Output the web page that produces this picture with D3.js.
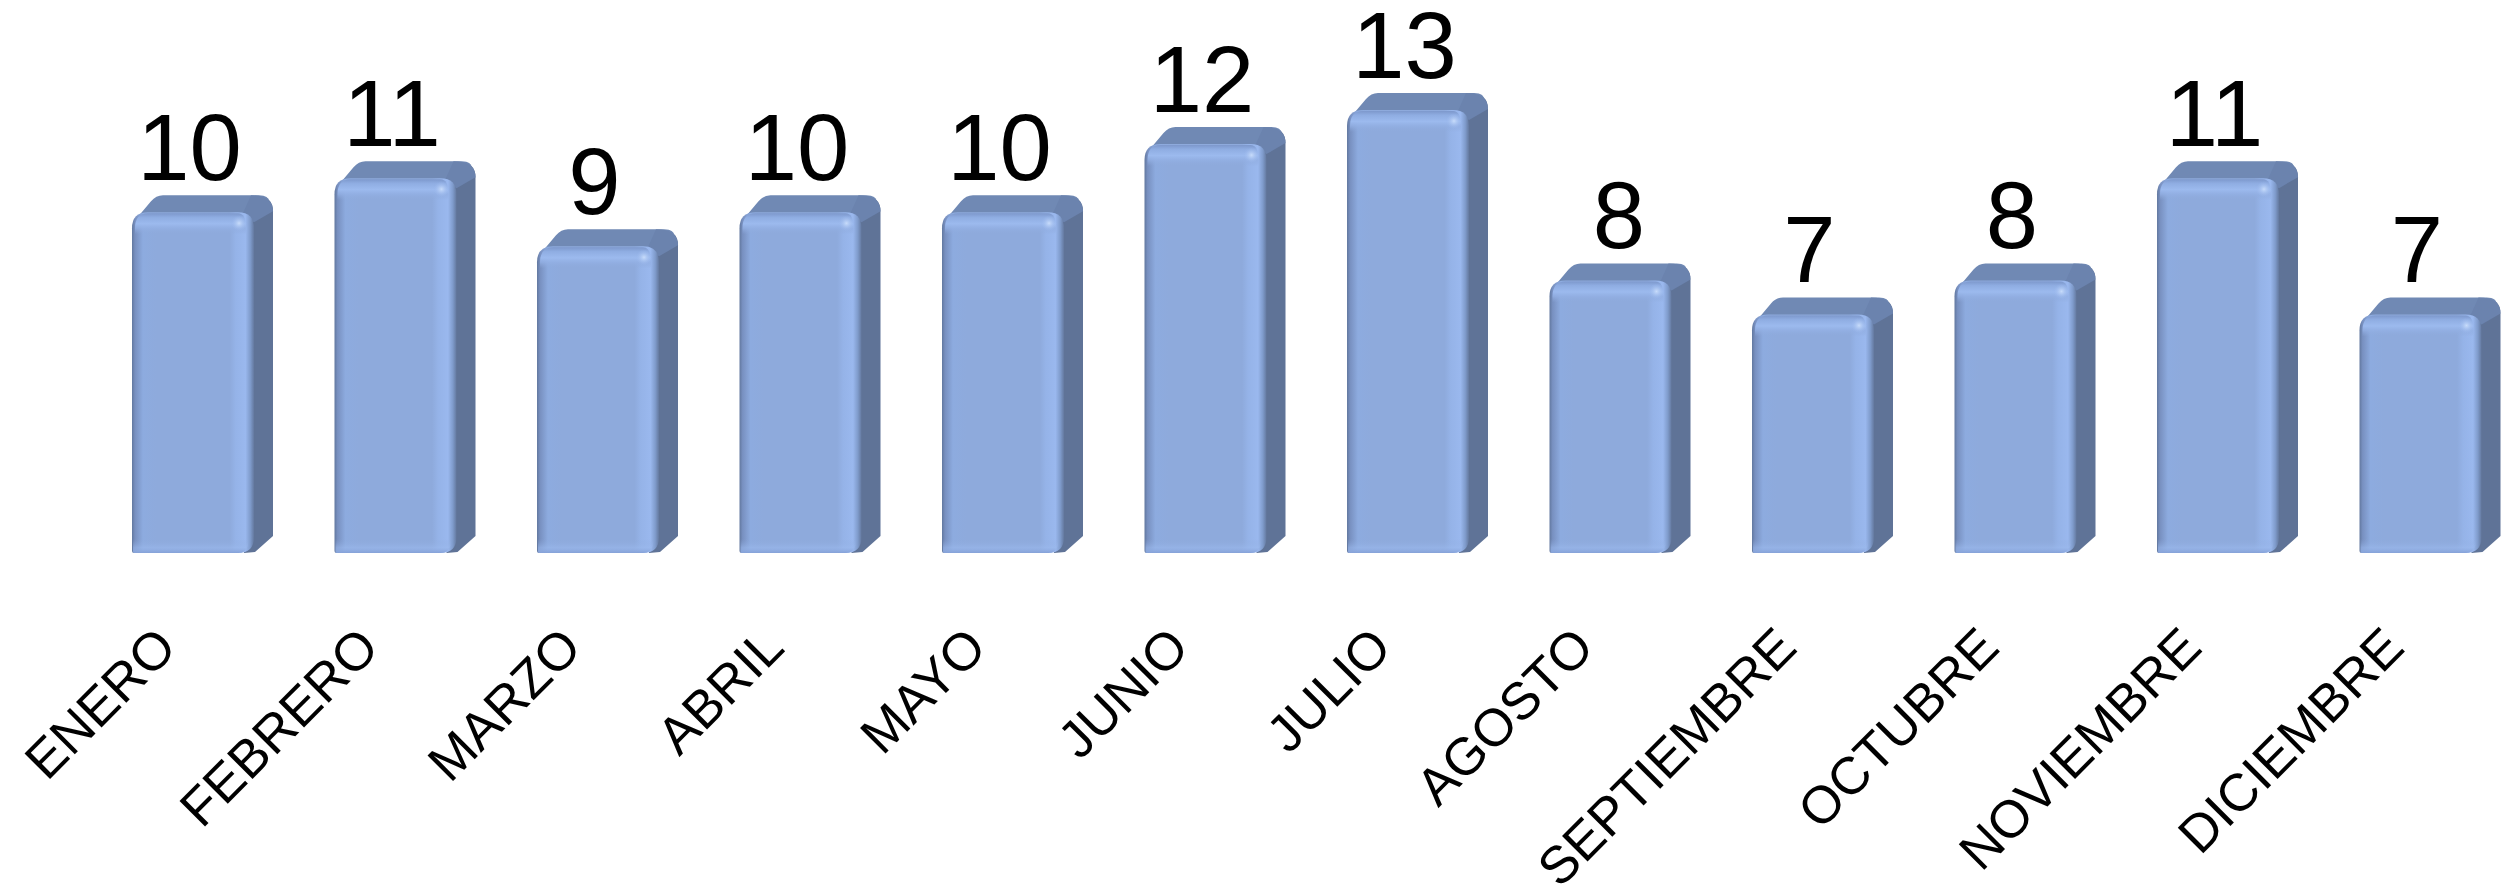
<!DOCTYPE html>
<html><head><meta charset="utf-8">
<script src="https://cdn.jsdelivr.net/npm/d3@7"></script>
<style>html,body{margin:0;background:#fff}svg{display:block}text{font-family:"Liberation Sans",Arial,sans-serif;fill:#000}</style>
</head><body><svg id="c" width="2514" height="888"></svg>
<script>
const categories=["ENERO","FEBRERO","MARZO","ABRIL","MAYO","JUNIO","JULIO","AGOSTO","SEPTIEMBRE","OCTUBRE","NOVIEMBRE","DICIEMBRE"];
const values=[10,11,9,10,10,12,13,8,7,8,11,7];
const W=2514,H=888;
const svg=d3.select("#c");
const x=d3.scaleBand().domain(categories).range([132,132+202.5*11+122]).paddingInner(80.5/202.5).paddingOuter(0);
const y=d3.scaleLinear().domain([0,13]).range([553,110]);
const dx=19,dy=17,r=16;
const defs=svg.append("defs");
function grad(id,x2,y2,stops){const g=defs.append("linearGradient").attr("id",id).attr("x1",0).attr("y1",0).attr("x2",x2).attr("y2",y2);
 stops.forEach(s=>g.append("stop").attr("offset",s[0]).attr("stop-color",s[1]).attr("stop-opacity",s[2]==null?1:s[2]));}
grad("front",1,0,[[0,"#62789f"],[.025,"#7890c0"],[.09,"#8dabdf"],[.2,"#8eaadc"],[.8,"#8eaadc"],[.85,"#95b3e8"],[.93,"#9ab8ee"],[.97,"#7f9bcb"],[1,"#64799f"]]);
grad("topB",0,1,[[0,"#7d98cc",1],[.2,"#8fadE2",1],[.5,"#9cbaee",1],[.72,"#93b0e4",.8],[1,"#8eaadc",0]]);
grad("botB",0,1,[[0,"#8eaadc",0],[.6,"#9ab8ec",.6],[1,"#86a2d8",1]]);
const rg=defs.append("radialGradient").attr("id","spot");
rg.append("stop").attr("offset",0).attr("stop-color","#c8dcfa");
rg.append("stop").attr("offset",1).attr("stop-color","#9ab8ee").attr("stop-opacity",0);
const bars=svg.selectAll("g.bar").data(categories).join("g").attr("class","bar")
 .attr("transform",d=>`translate(${x(d)},0)`);
const bw=x.bandwidth();
values.forEach((v,i)=>{
 const g=d3.select(bars.nodes()[i]);
 const t=y(v),b=y(0);
 const shift=categories[i]==="AGOSTO"?12:0;
 // side face
 g.append("path").attr("d",`M${bw-10},${t+4} L${bw+dx-r},${t-dy+1} Q${bw+dx},${t-dy+1} ${bw+dx},${t-dy+16} L${bw+dx},${b-dy} L${bw+1},${b-1} L${bw-10},${b} Z`).attr("fill","#5f7397");
 // top face
 g.append("path").attr("d",`M3,${t+8} L${dx},${t-dy+6} Q${dx+5},${t-dy} ${dx+12},${t-dy} L${bw+dx-14},${t-dy} Q${bw+dx-3},${t-dy} ${bw+dx-4},${t-dy+8} L${bw-4},${t+8} Z`).attr("fill","#7089b4");
 // top-right corner shading
 g.append("path").attr("d",`M${bw+dx-22},${t-dy} Q${bw+dx},${t-dy} ${bw+dx},${t-dy+16} L${bw},${t+10} L${bw-12},${t+3} Z`).attr("fill","#6b83ae");
 // front face
 g.append("path").attr("d",`M0,${t+r} Q0,${t} ${r},${t} L${bw-r},${t} Q${bw},${t} ${bw},${t+r} L${bw},${b-r} Q${bw},${b} ${bw-r},${b} L2,${b} Q0,${b} 0,${b-2} Z`).attr("fill","url(#front)");
 g.append("path").attr("d",`M3,${t+22} L3,${t+r} Q3,${t+1} ${r},${t+1} L${bw-r},${t+1} Q${bw-8},${t+1} ${bw-8},${t+r} L${bw-8},${t+22} Z`).attr("fill","url(#topB)");
 g.append("path").attr("d",`M1,${b-14} L${bw-6},${b-14} L${bw-6},${b-8} Q${bw-8},${b} ${bw-r},${b} L2,${b} Q1,${b} 1,${b-2} Z`).attr("fill","url(#botB)");
 g.append("circle").attr("cx",bw-15).attr("cy",t+11).attr("r",8).attr("fill","url(#spot)");
 // value label
 g.append("text").attr("x",bw/2-3.5+shift).attr("y",t-32).attr("text-anchor","middle").attr("font-size",94).text(v);
 // axis label
 g.append("text").attr("transform",`translate(${bw/2-27},${b+84}) rotate(-45)`).attr("text-anchor","end").attr("font-size",52.5).attr("dy",".35em").text(categories[i]);
});
</script></body></html>
